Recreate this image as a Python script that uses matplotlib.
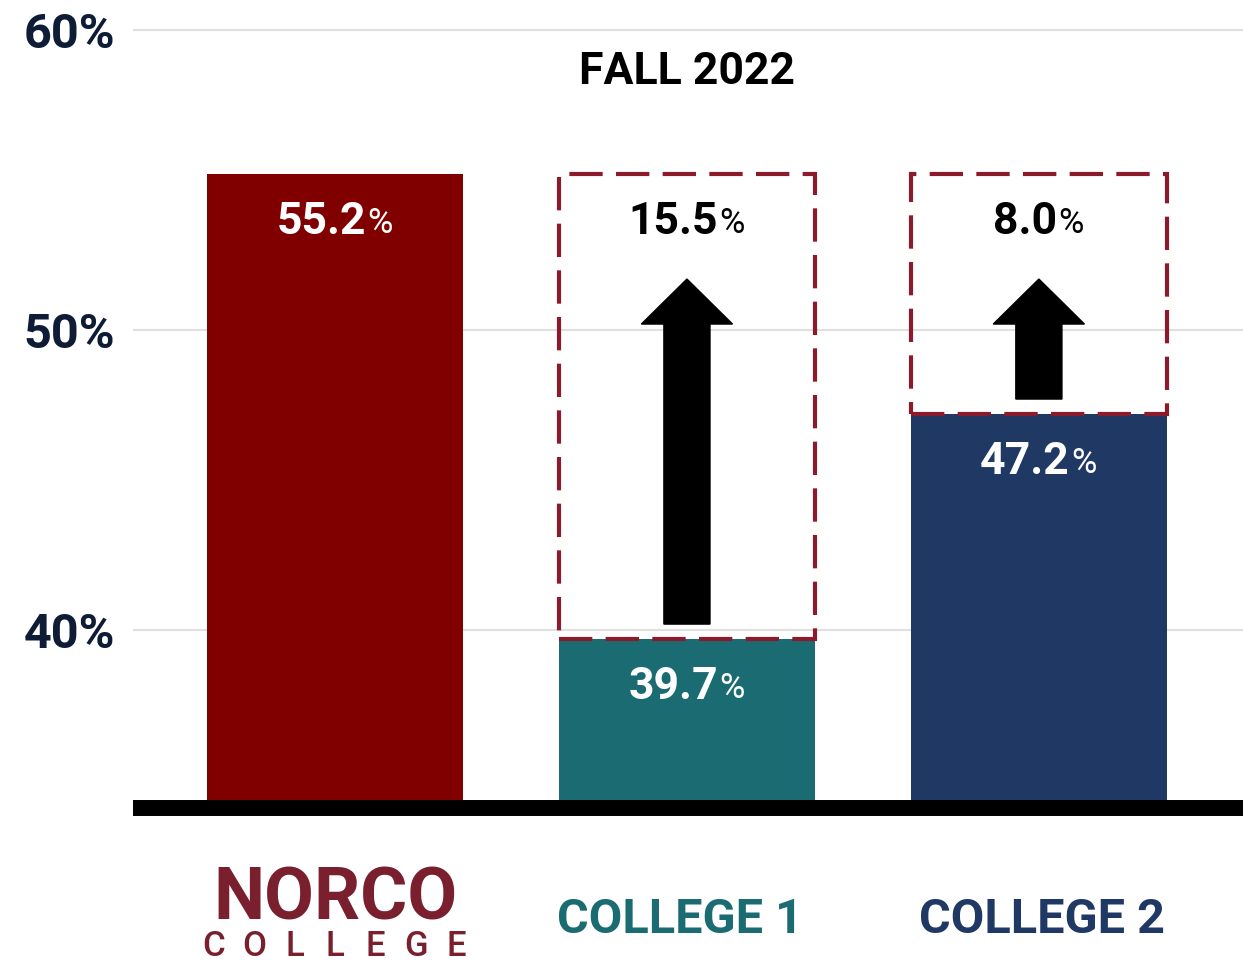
import matplotlib
matplotlib.use("Agg")
import matplotlib.pyplot as plt
from matplotlib.patches import Rectangle

#%% data
colleges = ["NORCO", "COLLEGE 1", "COLLEGE 2"]
rates = [55.2, 39.7, 47.2]            # fall 2022 rate (%)
gaps = [None, 15.5, 8.0]              # gap to Norco (%)
bar_colors = ["#800000", "#1b6b72", "#203864"]
label_colors = ["#7a1f2d", "#1b6b72", "#203864"]
yticks = [40, 50, 60]
ytick_labels = ["40%", "50%", "60%"]

plt.rcParams['font.family'] = ['Roboto', 'DejaVu Sans']

#%% figure
fig = plt.figure(figsize=(12.48, 9.63), dpi=100)
ax = fig.add_axes([133/1248, (963-808)/963, (1243-133)/1248, 808/963])

x = range(len(colleges))
bar_w = 0.727
ax.bar(x, [r - 30 for r in rates], bottom=30, width=bar_w, color=bar_colors, zorder=2)

# dashed boxes + arrows showing the gap up to Norco
top = rates[0]
arrow_tip = 51.7
for i in x:
    if gaps[i] is None:
        continue
    box = Rectangle((i - bar_w/2, rates[i]), bar_w, top - rates[i], fill=False,
                    edgecolor="#8b1a2b", linewidth=3, linestyle=(0, (8, 3.2)), zorder=3)
    ax.add_patch(box)
    start = rates[i] + 0.5
    ax.arrow(i, start, 0, arrow_tip - start, width=0.131, head_width=0.259,
             head_length=1.5, length_includes_head=True, color="black", zorder=4)


def pct_label(xv, yv, num, color):
    # number + smaller percent sign
    t = ax.annotate(num, xy=(xv, yv), xytext=(-10, 0), textcoords="offset points",
                    ha="center", va="center", fontsize=32, fontweight="bold",
                    color=color, zorder=5)
    ax.annotate("%", xy=(1, 0), xycoords=t, xytext=(1, 2), textcoords="offset points",
                ha="left", va="bottom", fontsize=25, color=color, zorder=5)


for i in x:
    pct_label(i, rates[i] - 1.6, f"{rates[i]:.1f}", "white")
    if gaps[i] is not None:
        pct_label(i, top - 1.6, f"{gaps[i]:.1f}", "black")

ax.text(1, 58.6, "FALL 2022", ha="center", va="center", fontsize=32,
        fontweight="bold", color="black")

# axes styling
ax.set_xlim(-0.574, 2.580)
ax.set_ylim(34.07, 61.0)
ax.set_yticks(yticks)
ax.set_yticklabels(ytick_labels, fontsize=35, fontweight="bold", color="#0e1c36")
ax.tick_params(axis="y", length=0, pad=13)
ax.set_xticks([])
ax.grid(axis="y", color="#e0e0e0", linewidth=1.5)
ax.set_axisbelow(True)
for s in ["left", "right", "top"]:
    ax.spines[s].set_visible(False)
ax.spines["bottom"].set_linewidth(11.5)
ax.spines["bottom"].set_color("black")
ax.spines["bottom"].set_capstyle("butt")

# category labels
tr = ax.get_xaxis_transform()
ax.text(0, -0.1385, "NORCO", transform=tr, ha="center", va="baseline",
        fontsize=52, fontweight="bold", color=label_colors[0])
for k, ch in enumerate("COLLEGE"):
    ax.text(-0.345 + k*0.115, -0.1835, ch, transform=tr, ha="center", va="baseline",
            fontsize=25, fontweight="medium", color=label_colors[0])
ax.text(1 - 0.02, -0.138, colleges[1], transform=tr, ha="center", va="center",
        fontsize=35, fontweight="bold", color=label_colors[1])
ax.text(2 + 0.01, -0.138, colleges[2], transform=tr, ha="center", va="center",
        fontsize=35, fontweight="bold", color=label_colors[2])

fig.savefig("out.png", dpi=100)
